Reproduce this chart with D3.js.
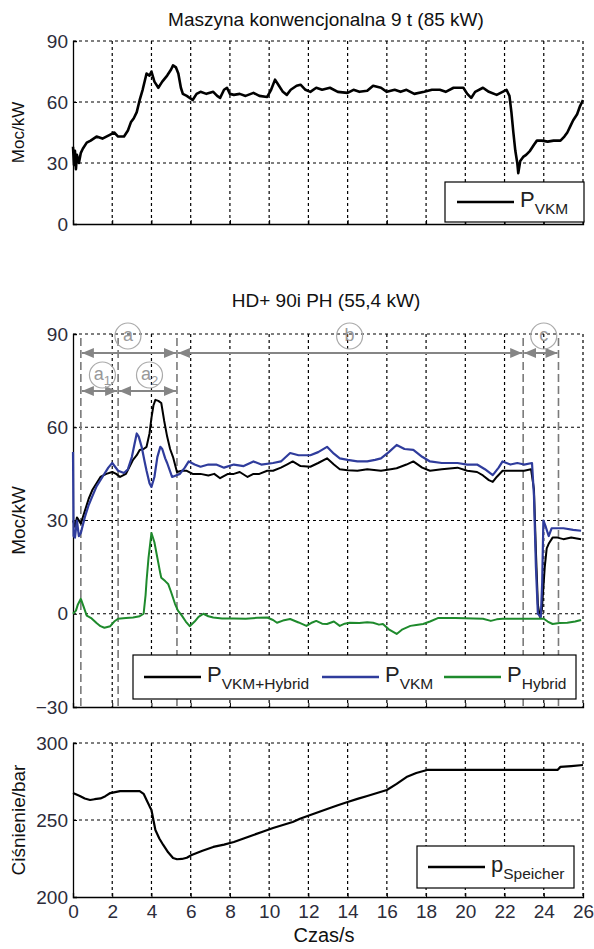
<!DOCTYPE html>
<html>
<head>
<meta charset="utf-8">
<script src="https://cdn.jsdelivr.net/npm/d3@7"></script>
<style>
  body { margin: 0; background: #fff; }
  svg { font-family: Arial, "Liberation Sans", sans-serif; }
</style>
</head>
<body>
<div id="chart"></div>
<script>
// time ticks (s)
var timeTicks = [0, 2, 4, 6, 8, 10, 12, 14, 16, 18, 20, 22, 24, 26];

// panel 1: conventional machine, [t, kW]
var convVkm = [[0,38],[0.05,29],[0.1,36],[0.15,27],[0.2,34],[0.3,30],[0.4,35],[0.5,37],[0.7,40],[0.9,41],[1.2,43],[1.5,42],[1.7,43],[1.9,44],[2.1,45],[2.3,43],[2.6,43],[2.8,46],[2.95,50],[3.1,52],[3.25,55],[3.4,61],[3.55,66],[3.75,74],[3.9,73],[4.0,75],[4.15,70],[4.35,67],[4.55,70],[4.8,73],[5.0,76],[5.1,78],[5.25,77],[5.37,74],[5.5,67],[5.6,64],[5.8,63],[6.1,61],[6.3,64],[6.5,65],[6.8,64],[7.15,65],[7.35,63],[7.5,62],[7.7,66],[7.85,67],[8.0,64],[8.2,63.5],[8.5,64],[8.8,63],[9.2,64.5],[9.5,63],[9.9,62.5],[10.1,66],[10.3,71],[10.5,68],[10.7,65],[10.9,63.5],[11.1,66],[11.4,68],[11.6,68.5],[11.85,66],[12.1,65],[12.4,67],[12.7,66],[13.1,67],[13.5,65],[14.0,64.5],[14.3,66],[14.6,65],[15.0,65.5],[15.3,68],[15.7,67],[16.0,65],[16.4,66],[16.7,65],[17.0,66],[17.4,64],[17.9,65],[18.3,66],[18.7,66],[19.0,65],[19.4,67],[19.9,67],[20.1,64],[20.3,62],[20.5,65],[20.9,67],[21.2,65],[21.6,63.5],[21.9,65],[22.1,66],[22.25,63],[22.35,55],[22.45,45],[22.55,36],[22.65,30],[22.7,25],[22.8,31],[22.95,33],[23.1,34],[23.3,36],[23.5,39],[23.65,41],[23.9,41],[24.2,40.5],[24.5,41],[24.85,41],[25.05,43],[25.2,45],[25.35,48],[25.5,51],[25.7,54],[25.85,58],[26,61]];

// panel 2: hybrid machine, [t, kW]
var hybSum = [[0,30],[0.1,28],[0.2,31],[0.4,29],[0.6,33],[0.8,37],[1.0,40],[1.2,42],[1.4,44],[1.7,45],[2.0,45.6],[2.2,45],[2.4,44],[2.7,45],[3.06,49.5],[3.25,51],[3.4,52.7],[3.6,53],[3.75,53.7],[3.9,58],[4.0,63],[4.1,67],[4.2,68.8],[4.35,68.5],[4.5,67.8],[4.65,62],[4.8,57],[4.95,53],[5.1,50.4],[5.3,45.6],[5.55,46],[5.8,46],[6.1,45],[6.5,45],[6.9,44.5],[7.2,45],[7.5,43.6],[7.9,45],[8.2,45],[8.5,45.6],[8.9,44],[9.2,45],[9.5,45],[9.9,46],[10.2,46],[10.6,47],[10.9,48],[11.2,49],[11.6,47.5],[12.1,47.3],[12.5,48.5],[12.95,50],[13.3,48],[13.6,46.5],[14.0,46.2],[14.5,46],[15.0,46.5],[15.7,46],[16.2,46.5],[16.5,46.8],[17.0,48],[17.35,49],[17.8,47],[18.2,46],[18.8,46.5],[19.6,47],[20.1,46],[20.6,45.6],[20.9,44.5],[21.2,43],[21.4,42.4],[21.6,44],[21.9,46],[22.3,46],[22.65,46],[23.0,46],[23.35,46.5],[23.5,40],[23.6,20],[23.7,3],[23.8,-1],[23.9,1],[24.05,15],[24.15,21],[24.25,22.5],[24.45,24.5],[24.7,24.5],[25.0,24],[25.4,24.5],[25.9,24]];
var hybVkm = [[0,52],[0.03,25],[0.1,24.5],[0.2,30],[0.3,25],[0.4,26],[0.6,31],[0.8,35],[1.0,38],[1.2,41],[1.5,44],[1.8,47],[2.0,48.5],[2.3,46],[2.6,45.3],[2.8,46.5],[3.0,50.4],[3.15,55],[3.25,58],[3.35,57],[3.5,53.7],[3.65,49],[3.75,46],[3.9,42],[4.0,40.8],[4.15,44],[4.3,50.4],[4.45,53.7],[4.55,53],[4.7,50],[4.8,48.5],[5.05,44],[5.25,44.5],[5.45,45],[5.7,47],[5.9,49],[6.2,48],[6.5,47.3],[6.9,48],[7.3,48],[7.7,47],[8.2,48],[8.7,47.5],[9.2,49],[9.6,48],[10.2,48.5],[10.6,49],[11.07,51.7],[11.5,51],[12.1,51],[12.5,52],[12.95,53.7],[13.3,51.5],[13.6,50],[14.0,49.5],[14.5,49],[15.0,49],[15.4,49.5],[15.7,50],[16.1,52],[16.5,54.3],[16.9,53],[17.35,52.7],[17.8,50.5],[18.2,49],[18.8,48.5],[19.6,48.5],[20.1,48],[20.6,48],[21.0,46.5],[21.4,44.6],[21.7,47],[21.9,49],[22.3,48],[22.65,48.5],[23.0,48],[23.4,48.5],[23.5,38],[23.6,15],[23.7,0],[23.85,-1],[23.92,10],[23.98,30],[24.1,28],[24.25,25],[24.4,27.5],[24.7,27.5],[25.0,27.5],[25.5,27],[25.9,26.7]];
var hybHybrid = [[0,0],[0.15,1],[0.25,3],[0.4,4.8],[0.5,3],[0.7,-0.6],[0.95,-1.5],[1.2,-3],[1.4,-4],[1.6,-4.5],[1.9,-4],[2.1,-2.5],[2.3,-1.6],[2.7,-1.4],[3.06,-1.2],[3.4,-0.8],[3.6,0],[3.7,6],[3.75,10.6],[3.85,18],[4.0,26],[4.15,23],[4.3,18],[4.45,13],[4.5,11.6],[4.7,10.5],[4.85,9.6],[5.0,7],[5.2,3.2],[5.35,1],[5.55,-0.6],[5.75,-2.5],[5.95,-4],[6.2,-2.5],[6.4,-1],[6.65,0],[6.9,-0.8],[7.15,-1.2],[7.6,-1.5],[8.2,-1.5],[8.8,-1.6],[9.4,-1.3],[9.9,-1.2],[10.2,-2],[10.4,-2.9],[10.7,-2.2],[11.07,-1.7],[11.5,-2.8],[11.9,-3.9],[12.2,-2.8],[12.4,-2.3],[12.7,-3.2],[12.95,-3.3],[13.3,-2.5],[13.6,-3.9],[13.85,-3.2],[14.1,-2.9],[14.6,-3],[15.0,-2.7],[15.3,-2.9],[15.6,-3.5],[15.8,-3.3],[16.1,-5],[16.5,-6.5],[16.8,-5],[17.2,-3.9],[17.5,-3.6],[17.85,-3.3],[18.2,-2.5],[18.6,-1.4],[19.5,-1.4],[20.4,-1.5],[20.9,-1.6],[21.3,-2.3],[21.6,-1.8],[21.9,-1.6],[22.8,-1.6],[23.65,-1.6],[24.0,-1.6],[24.2,-2.5],[24.45,-3.3],[24.8,-3],[25.2,-2.9],[25.6,-2.5],[25.9,-2]];

// panel 3: accumulator pressure, [t, bar]
var pSpeicher = [[0,267.5],[0.35,265.6],[0.6,264],[0.87,263],[1.1,263.5],[1.4,264],[1.65,265.5],[1.9,267.5],[2.4,268.8],[2.9,268.8],[3.4,268.8],[3.6,267],[3.75,263],[3.9,259],[4.0,256.5],[4.1,250],[4.2,243.5],[4.4,238],[4.6,233.8],[4.85,229],[5.1,225.3],[5.3,224.5],[5.55,224.7],[5.8,225.5],[6.05,227.3],[6.6,230],[7.15,232.5],[7.7,234],[8.2,235.7],[8.7,238],[9.2,240.3],[9.7,242.5],[10.2,244.8],[10.7,246.8],[11.2,248.7],[11.6,251],[12.1,253.2],[12.6,255.5],[13.1,257.8],[13.5,259.6],[14.0,261.7],[14.5,263.7],[15.0,265.6],[15.5,267.5],[16.0,269.5],[16.5,273.5],[17.0,277.9],[17.5,280.5],[18.05,282.5],[18.2,282.5],[24.7,282.5],[24.85,284.5],[25.4,285],[26,285.7]];

// phase boundaries (s) and phase labels
var phaseLines = [0.4, 2.3, 5.3, 22.95, 24.75];
var phases = [
  {label: 'a', sub: '', from: 0.4, to: 5.3, row: 0, at: 2.8},
  {label: 'b', sub: '', from: 5.3, to: 22.95, row: 0, at: 14.1},
  {label: 'c', sub: '', from: 22.95, to: 24.75, row: 0, at: 24.0},
  {label: 'a', sub: '1', from: 0.4, to: 2.3, row: 1, at: 1.5},
  {label: 'a', sub: '2', from: 2.3, to: 5.3, row: 1, at: 3.9}
];

var width = 594, height = 949;
var svg = d3.select('#chart').append('svg')
  .attr('width', width).attr('height', height);

var defs = svg.append('defs');
defs.append('marker').attr('id', 'arr').attr('viewBox', '0 0 12 10')
  .attr('refX', 12).attr('refY', 5).attr('markerWidth', 12).attr('markerHeight', 10)
  .attr('markerUnits', 'userSpaceOnUse').attr('orient', 'auto-start-reverse')
  .append('path').attr('d', 'M0,0L12,5L0,10Z').attr('fill', '#858585');

var x = d3.scaleLinear().domain([0, 26]).range([73, 583]);
var tickColor = '#2c2c3a';

function panel(opts) {
  var y = d3.scaleLinear().domain(opts.domain).range(opts.range);
  var g = svg.append('g');
  var top = opts.range[1], bottom = opts.range[0];

  // grid
  g.append('g').selectAll('line').data(timeTicks.slice(1)).enter().append('line')
    .attr('x1', function(d){ return x(d); }).attr('x2', function(d){ return x(d); })
    .attr('y1', top).attr('y2', bottom)
    .attr('stroke', '#000').attr('stroke-width', 1.2).attr('stroke-dasharray', '3,3');
  g.append('g').selectAll('line').data(opts.ticks.slice(1)).enter().append('line')
    .attr('x1', x(0)).attr('x2', x(26))
    .attr('y1', function(d){ return y(d); }).attr('y2', function(d){ return y(d); })
    .attr('stroke', '#000').attr('stroke-width', 1.2).attr('stroke-dasharray', '3,3');

  // axes
  var ya = g.append('g').attr('transform', 'translate(' + x(0) + ',0)')
    .call(d3.axisLeft(y).tickValues(opts.ticks).tickSize(-4).tickPadding(5));
  ya.select('.domain').attr('stroke', '#000').attr('stroke-width', 1.3);
  ya.selectAll('text').attr('font-size', 19).attr('fill', tickColor)
    .attr('font-family', 'Arial, "Liberation Sans", sans-serif');

  var xa = g.append('g').attr('transform', 'translate(0,' + bottom + ')')
    .call(d3.axisBottom(x).tickValues(timeTicks).tickSize(-4).tickPadding(8));
  xa.select('.domain').attr('stroke', '#000').attr('stroke-width', 1.3);
  xa.selectAll('text').attr('font-size', 19).attr('fill', tickColor)
    .attr('font-family', 'Arial, "Liberation Sans", sans-serif')
    .style('display', opts.xLabels ? null : 'none');

  // title
  if (opts.title) {
    svg.append('text').attr('x', 326).attr('y', opts.titleY)
      .attr('text-anchor', 'middle').attr('font-size', 19).attr('fill', '#111')
      .text(opts.title);
  }
  // y label
  svg.append('text')
    .attr('transform', 'translate(' + opts.yLabelX + ',' + ((top + bottom) / 2) + ') rotate(-90)')
    .attr('text-anchor', 'middle').attr('font-size', opts.yLabelSize).attr('fill', '#111')
    .text(opts.yLabel);

  return {g: g, y: y};
}

function drawLine(p, data, color, w) {
  p.g.append('path').datum(data)
    .attr('d', d3.line().x(function(d){ return x(d[0]); }).y(function(d){ return p.y(d[1]); }))
    .attr('fill', 'none').attr('stroke', color).attr('stroke-width', w)
    .attr('stroke-linejoin', 'round');
}

function legend(box, items) {
  var lg = svg.append('g');
  lg.append('rect').attr('x', box[0]).attr('y', box[1]).attr('width', box[2]).attr('height', box[3])
    .attr('fill', '#fff').attr('stroke', '#000').attr('stroke-width', 1.2);
  items.forEach(function(it) {
    var cy = box[1] + box[3] / 2;
    lg.append('line').attr('x1', it.x).attr('x2', it.x + 57).attr('y1', cy).attr('y2', cy)
      .attr('stroke', it.color).attr('stroke-width', 2.4);
    var t = lg.append('text').attr('x', it.x + 63).attr('y', cy + 5).attr('font-size', 22).attr('fill', '#222');
    t.append('tspan').text(it.main);
    t.append('tspan').attr('font-size', 15.5).attr('dy', 7).text(it.sub);
  });
}

// ---- panel 1
var p1 = panel({domain: [0, 90], range: [224, 41], ticks: [0, 30, 60, 90],
  title: 'Maszyna konwencjonalna 9 t (85 kW)', titleY: 26, yLabel: 'Moc/kW', yLabelX: 24, yLabelSize: 17});
drawLine(p1, convVkm, '#000', 2.6);
legend([445, 182, 139, 40], [{x: 457, color: '#000', main: 'P', sub: 'VKM'}]);

// ---- panel 2
var p2 = panel({domain: [-30, 90], range: [707, 334], ticks: [-30, 0, 30, 60, 90],
  title: 'HD+ 90i PH (55,4 kW)', titleY: 307, yLabel: 'Moc/kW', yLabelX: 25, yLabelSize: 19});

// phase markers
p2.g.append('g').selectAll('line').data(phaseLines).enter().append('line')
  .attr('x1', function(d){ return x(d); }).attr('x2', function(d){ return x(d); })
  .attr('y1', 338).attr('y2', 707)
  .attr('stroke', '#7a7a7a').attr('stroke-width', 1.6).attr('stroke-dasharray', '8,4');

drawLine(p2, hybSum, '#000', 2);
drawLine(p2, hybVkm, '#2f3c9c', 2.2);
drawLine(p2, hybHybrid, '#1e8a2c', 2);

var rowY = [353, 391], circY = [336, 375];
var ph = svg.append('g');
ph.selectAll('line').data(phases).enter().append('line')
  .attr('x1', function(d){ return x(d.from) + 1; }).attr('x2', function(d){ return x(d.to) - 1; })
  .attr('y1', function(d){ return rowY[d.row]; }).attr('y2', function(d){ return rowY[d.row]; })
  .attr('stroke', '#858585').attr('stroke-width', 2)
  .attr('marker-start', 'url(#arr)').attr('marker-end', 'url(#arr)');
var pc = ph.selectAll('g.pc').data(phases).enter().append('g').attr('class', 'pc')
  .attr('transform', function(d){ return 'translate(' + x(d.at) + ',' + circY[d.row] + ')'; });
pc.append('circle').attr('r', 13).attr('fill', 'none').attr('stroke', '#aaa').attr('stroke-width', 1.2);
var pt = pc.append('text').attr('text-anchor', 'middle').attr('y', 5).attr('font-size', 18).attr('fill', '#999');
pt.append('tspan').text(function(d){ return d.label; });
pt.append('tspan').attr('font-size', 13).attr('dy', 5).text(function(d){ return d.sub; });

legend([133, 655, 443, 44], [
  {x: 144, color: '#000', main: 'P', sub: 'VKM+Hybrid'},
  {x: 322, color: '#2f3c9c', main: 'P', sub: 'VKM'},
  {x: 444, color: '#1e8a2c', main: 'P', sub: 'Hybrid'}
]);

// ---- panel 3
var p3 = panel({domain: [200, 300], range: [897, 743], ticks: [200, 250, 300],
  yLabel: 'Ciśnienie/bar', yLabelX: 25, yLabelSize: 19, xLabels: true});
drawLine(p3, pSpeicher, '#000', 2.2);
legend([417, 846, 157, 42], [{x: 428, color: '#000', main: 'p', sub: 'Speicher'}]);

svg.append('text').attr('x', 324).attr('y', 942).attr('text-anchor', 'middle')
  .attr('font-size', 20).attr('fill', '#111').text('Czas/s');
</script>
</body>
</html>
